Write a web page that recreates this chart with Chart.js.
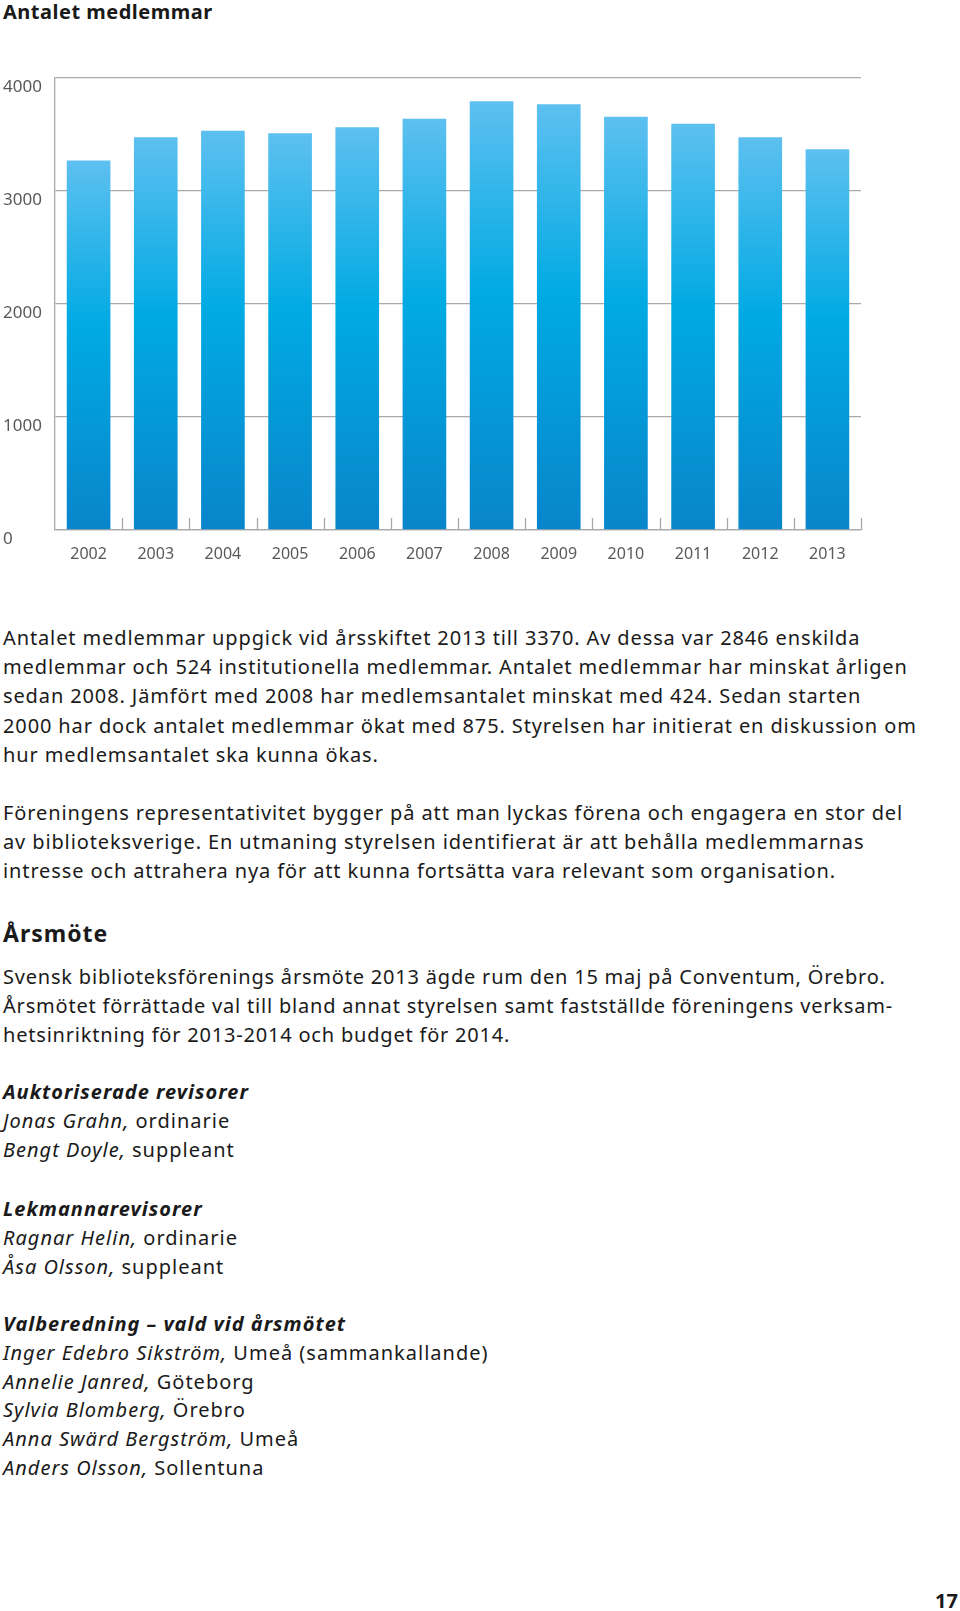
<!DOCTYPE html>
<html lang="sv">
<head>
<meta charset="utf-8">
<title>Antalet medlemmar</title>
<script src="https://cdn.jsdelivr.net/npm/chart.js@4.4.0/dist/chart.umd.min.js"></script>
<style>
  html, body { margin: 0; padding: 0; background: #fff; }
  body {
    width: 960px; height: 1611px; position: relative; overflow: hidden;
    font-family: "Noto Sans", "Open Sans", sans-serif; color: #1a1a1a;
  }
  .chart-title { position: absolute; left: 3px; top: 0; font-size: 20px; font-weight: 700; line-height: 24px; letter-spacing: 0.5px; }
  #chart-wrap { position: absolute; left: 0; top: 40px; width: 960px; height: 560px; }
  .block { position: absolute; left: 3px; font-size: 20px; letter-spacing: 0.88px; line-height: 29.2px; white-space: nowrap; }
  .block div { height: 29.2px; }
  .heading { position: absolute; left: 3px; font-size: 23px; font-weight: 700; line-height: 30px; letter-spacing: 1px; }
  .list { position: absolute; left: 3px; font-size: 20px; letter-spacing: 1px; line-height: 28.8px; white-space: nowrap; }
  .list b { font-style: italic; }
  .page-no { position: absolute; right: 2px; top: 1589px; font-size: 20px; font-weight: 700; line-height: 24px; }
</style>
</head>
<body>
<div class="chart-title">Antalet medlemmar</div>
<div id="chart-wrap"><canvas id="members-chart"></canvas></div>

<div class="block" style="top:623px">
  <div>Antalet medlemmar uppgick vid årsskiftet 2013 till 3370. Av dessa var 2846 enskilda</div>
  <div>medlemmar och 524 institutionella medlemmar. Antalet medlemmar har minskat årligen</div>
  <div>sedan 2008. Jämfört med 2008 har medlemsantalet minskat med 424. Sedan starten</div>
  <div>2000 har dock antalet medlemmar ökat med 875. Styrelsen har initierat en diskussion om</div>
  <div>hur medlemsantalet ska kunna ökas.</div>
</div>

<div class="block" style="top:798px">
  <div>Föreningens representativitet bygger på att man lyckas förena och engagera en stor del</div>
  <div>av biblioteksverige. En utmaning styrelsen identifierat är att behålla medlemmarnas</div>
  <div>intresse och attrahera nya för att kunna fortsätta vara relevant som organisation.</div>
</div>

<div class="heading" style="top:918px">Årsmöte</div>

<div class="block" style="top:962px; letter-spacing: 0.8px">
  <div>Svensk biblioteksförenings årsmöte 2013 ägde rum den 15 maj på Conventum, Örebro.</div>
  <div>Årsmötet förrättade val till bland annat styrelsen samt fastställde föreningens verksam-</div>
  <div>hetsinriktning för 2013-2014 och budget för 2014.</div>
</div>

<div class="list" style="top:1078px">
  <div><b>Auktoriserade revisorer</b></div>
  <div><i>Jonas Grahn,</i> ordinarie</div>
  <div><i>Bengt Doyle,</i> suppleant</div>
</div>

<div class="list" style="top:1195px">
  <div><b>Lekmannarevisorer</b></div>
  <div><i>Ragnar Helin,</i> ordinarie</div>
  <div><i>Åsa Olsson,</i> suppleant</div>
</div>

<div class="list" style="top:1310px">
  <div><b>Valberedning – vald vid årsmötet</b></div>
  <div><i>Inger Edebro Sikström,</i> Umeå (sammankallande)</div>
  <div><i>Annelie Janred,</i> Göteborg</div>
  <div><i>Sylvia Blomberg,</i> Örebro</div>
  <div><i>Anna Swärd Bergström,</i> Umeå</div>
  <div><i>Anders Olsson,</i> Sollentuna</div>
</div>

<div class="page-no">17</div>

<script>
const years = ["2002", "2003", "2004", "2005", "2006", "2007", "2008", "2009", "2010", "2011", "2012", "2013"];
const members = [3270, 3475, 3534, 3510, 3564, 3640, 3794, 3767, 3658, 3596, 3475, 3370];
const yTicks = [0, 1000, 2000, 3000, 4000];

const chartCanvas = document.getElementById("members-chart");
const axisGrey = "#a9a9a9";
const labelGrey = "#58595b";

function barGradient(context) {
  const chart = context.chart;
  if (!chart.chartArea || context.type !== "data") return "#00a9e2";
  const yScale = chart.scales.y;
  const top = yScale.getPixelForValue(context.raw);
  const bottom = yScale.getPixelForValue(0);
  const gradient = chart.ctx.createLinearGradient(0, top, 0, bottom);
  gradient.addColorStop(0, "#5dc0f0");
  gradient.addColorStop(0.45, "#00aae3");
  gradient.addColorStop(1, "#0985cb");
  return gradient;
}

// small upward ticks between the categories on the x axis
const categoryTicks = {
  id: "categoryTicks",
  afterDatasetsDraw(chart) {
    const xScale = chart.scales.x;
    const base = chart.scales.y.getPixelForValue(0);
    const ctx = chart.ctx;
    ctx.save();
    ctx.strokeStyle = axisGrey;
    ctx.lineWidth = 1.3;
    ctx.beginPath();
    for (let i = 1; i <= years.length; i++) {
      const x = Math.round(xScale.getPixelForValue(i - 0.5)) + 0.5;
      ctx.moveTo(x, base);
      ctx.lineTo(x, base - 12);
    }
    ctx.stroke();
    ctx.restore();
  },
};

new Chart(chartCanvas, {
  type: "bar",
  data: {
    labels: years,
    datasets: [
      {
        data: members,
        backgroundColor: barGradient,
        borderWidth: 0,
        barPercentage: 0.65,
        categoryPercentage: 1,
      },
    ],
  },
  options: {
    responsive: true,
    maintainAspectRatio: false,
    animation: false,
    layout: { padding: { left: 3, top: 38, right: 99, bottom: 30 } },
    plugins: {
      legend: { display: false },
      tooltip: { enabled: false },
    },
    scales: {
      x: {
        grid: { display: false },
        border: { display: true, color: axisGrey, width: 1.3 },
        ticks: {
          color: labelGrey,
          font: { family: "Noto Sans", size: 16 },
          padding: 7,
          maxRotation: 0,
        },
        afterFit(scale) {
          scale.height = 40;
        },
      },
      y: {
        min: 0,
        max: 4000,
        afterBuildTicks(scale) {
          scale.ticks = yTicks.map((value) => ({ value }));
        },
        grid: { color: axisGrey, lineWidth: 1.3, drawTicks: false },
        border: { display: true, color: axisGrey, width: 1.3 },
        ticks: {
          color: labelGrey,
          font: { family: "Noto Sans", size: 17 },
          crossAlign: "far",
          labelOffset: 9,
          callback: (value) => String(value),
        },
        afterFit(scale) {
          scale.width = 52;
        },
      },
    },
  },
  plugins: [categoryTicks],
});
</script>
</body>
</html>
